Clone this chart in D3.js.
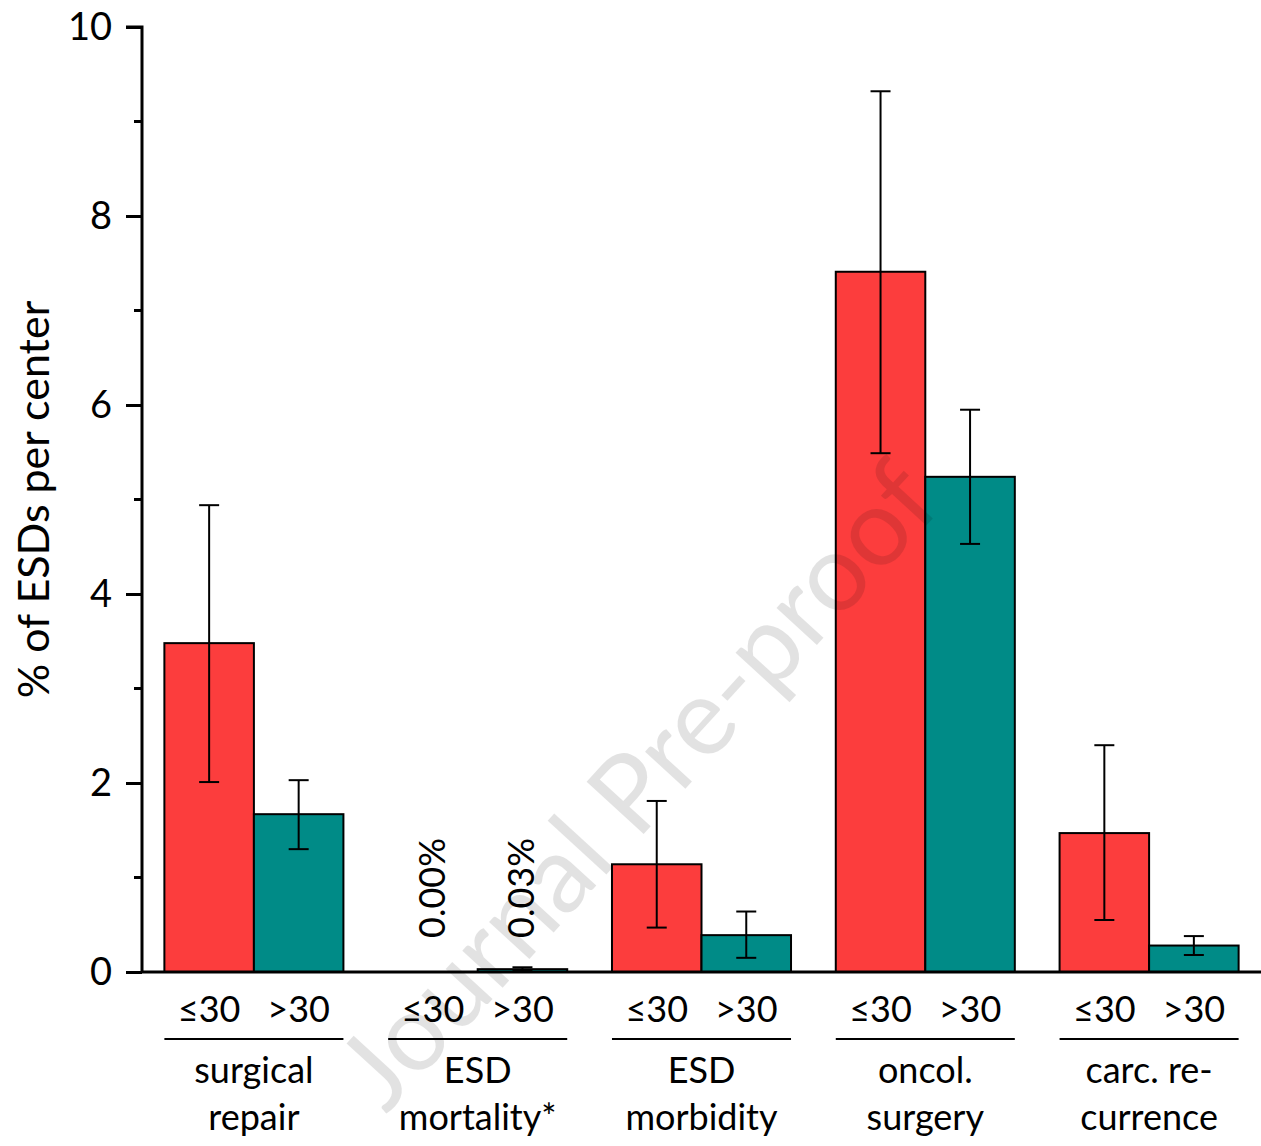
<!DOCTYPE html>
<html>
<head>
<meta charset="utf-8">
<script src="https://cdn.jsdelivr.net/npm/d3@7"></script>
<style>
  body { margin: 0; background: #fff; }
  text { font-family: Lato, "Open Sans", sans-serif; fill: #000; }
</style>
</head>
<body>
<div id="chart"></div>
<script>
// data
const categories = ["surgical\nrepair", "ESD\nmortality*", "ESD\nmorbidity", "oncol.\nsurgery", "carc. re-\ncurrence"];
const groups = ["≤30", ">30"];
const lowVals = [3.48, 0.00, 1.14, 7.41, 1.47];
const lowErrLo = [2.01, null, 0.47, 5.49, 0.55];
const lowErrHi = [4.94, null, 1.81, 9.32, 2.40];
const highVals = [1.67, 0.03, 0.39, 5.24, 0.28];
const highErrLo = [1.30, 0.01, 0.15, 4.53, 0.18];
const highErrHi = [2.03, 0.05, 0.64, 5.95, 0.38];
const yTicks = [0, 2, 4, 6, 8, 10];
const pctLabels = ["0.00%", "0.03%"];
const colors = { "≤30": "#fc3d3d", ">30": "#008b87" };

const W = 1261, H = 1146;
const margin = { top: 27, right: 0, bottom: 174, left: 142 };

const svg = d3.select("#chart").append("svg")
  .attr("width", W).attr("height", H);

const x = d3.scaleBand()
  .domain(categories)
  .range([margin.left, W])
  .paddingInner(0.2)
  .paddingOuter(0.1);

const xSub = d3.scaleBand().domain(groups).range([0, x.bandwidth()]);

const y = d3.scaleLinear().domain([0, 10]).range([H - margin.bottom, margin.top]);

const rows = [];
categories.forEach((c, i) => {
  rows.push({ cat: c, grp: "≤30", v: lowVals[i], lo: lowErrLo[i], hi: lowErrHi[i] });
  rows.push({ cat: c, grp: ">30", v: highVals[i], lo: highErrLo[i], hi: highErrHi[i] });
});

// bars
svg.append("g").selectAll("rect")
  .data(rows.filter(d => d.v > 0))
  .join("rect")
  .attr("x", d => x(d.cat) + xSub(d.grp))
  .attr("y", d => y(d.v))
  .attr("width", xSub.bandwidth())
  .attr("height", d => y(0) - y(d.v))
  .attr("fill", d => colors[d.grp])
  .attr("stroke", "#000")
  .attr("stroke-width", 2);

// error bars
const cx = d => x(d.cat) + xSub(d.grp) + xSub.bandwidth() / 2;
const eb = svg.append("g").attr("stroke", "#000").attr("stroke-width", 2)
  .selectAll("g").data(rows.filter(d => d.lo != null)).join("g");
eb.append("line").attr("x1", cx).attr("x2", cx).attr("y1", d => y(d.lo)).attr("y2", d => y(d.hi));
eb.append("line").attr("x1", d => cx(d) - 10).attr("x2", d => cx(d) + 10).attr("y1", d => y(d.lo)).attr("y2", d => y(d.lo));
eb.append("line").attr("x1", d => cx(d) - 10).attr("x2", d => cx(d) + 10).attr("y1", d => y(d.hi)).attr("y2", d => y(d.hi));

// percent labels for the mortality group
svg.append("g").selectAll("text")
  .data(groups)
  .join("text")
  .attr("transform", (g, i) => `translate(${x(categories[1]) + xSub(g) + xSub.bandwidth() / 2 + 12},${y(0) - 34}) rotate(-90)`)
  .attr("font-size", 36)
  .text((g, i) => pctLabels[i]);

// y axis
const yAxis = d3.axisLeft(y).tickValues(yTicks).tickSize(16).tickPadding(14);
const ya = svg.append("g").attr("transform", `translate(${margin.left},0)`).call(yAxis);
ya.select(".domain").attr("stroke-width", 3).attr("d", `M-16,${y(10)}H0V${y(0)}`);
ya.selectAll(".tick line").attr("stroke-width", 3);
ya.selectAll(".tick text").attr("font-size", 38).attr("font-family", "Lato, sans-serif").attr("fill", "#000");
ya.selectAll(".minor").data(d3.range(1, 10, 2)).join("line")
  .attr("class", "minor")
  .attr("x1", -8).attr("x2", 0)
  .attr("y1", d => y(d)).attr("y2", d => y(d))
  .attr("stroke", "#000").attr("stroke-width", 3);

// x baseline
svg.append("line")
  .attr("x1", margin.left).attr("x2", W)
  .attr("y1", y(0)).attr("y2", y(0))
  .attr("stroke", "#000").attr("stroke-width", 3);

// group and category labels
const gl = svg.append("g").selectAll("g").data(categories).join("g")
  .attr("transform", d => `translate(${x(d)},0)`);
gl.selectAll(".sub").data(groups).join("text")
  .attr("class", "sub")
  .attr("x", g => xSub(g) + xSub.bandwidth() / 2)
  .attr("y", y(0) + 50)
  .attr("text-anchor", "middle")
  .attr("font-size", 36)
  .text(g => g);
gl.append("line")
  .attr("x1", 0).attr("x2", x.bandwidth())
  .attr("y1", y(0) + 67).attr("y2", y(0) + 67)
  .attr("stroke", "#000").attr("stroke-width", 2);
gl.each(function (d) {
  const t = d3.select(this).append("text")
    .attr("text-anchor", "middle")
    .attr("font-size", 36);
  d.split("\n").forEach((line, i) => {
    t.append("tspan").attr("x", x.bandwidth() / 2).attr("y", y(0) + 111 + i * 47).text(line);
  });
});

// y label
svg.append("text")
  .attr("transform", `translate(49,${(y(0) + y(10)) / 2}) rotate(-90)`)
  .attr("text-anchor", "middle")
  .attr("font-size", 43)
  .text("% of ESDs per center");

// watermark
svg.append("text")
  .attr("transform", "translate(645,792) rotate(-47.5)")
  .attr("text-anchor", "middle")
  .attr("dominant-baseline", "middle")
  .attr("font-size", 108)
  .style("fill", "#000")
  .style("opacity", 0.11)
  .text("Journal Pre-proof");
</script>
</body>
</html>
